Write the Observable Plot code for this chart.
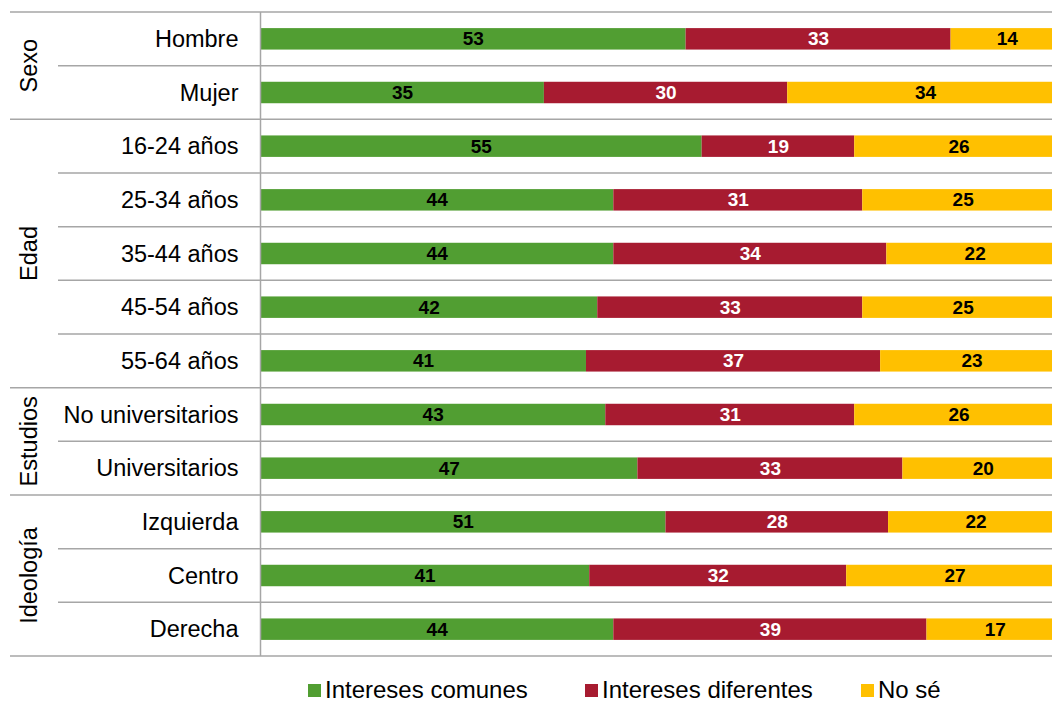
<!DOCTYPE html>
<html>
<head>
<meta charset="utf-8">
<script src="https://cdn.jsdelivr.net/npm/d3@7"></script>
<script src="https://cdn.jsdelivr.net/npm/@observablehq/plot@0.6"></script>
<style>
  html, body { margin: 0; padding: 0; background: #fff; overflow: hidden; }
  body { font-family: "Liberation Sans", Arial, Helvetica, sans-serif; color: #000; width: 1052px; }
  #chart { width: 1052px; height: 668px; overflow: hidden; }
  #chart svg { display: block; max-width: none !important; }
  #legend { position: relative; height: 34px; width: 1052px; font-size: 24px; }
  .item { position: absolute; top: 11px; display: flex; align-items: center; line-height: 22px; height: 22px; }
  .sw { width: 13px; height: 13px; margin-right: 4px; }
</style>
</head>
<body>
<div id="chart"></div>
<div id="legend"></div>
<script>
// ---- data ----
const categories = ["Hombre", "Mujer", "16-24 años", "25-34 años", "35-44 años", "45-54 años", "55-64 años",
  "No universitarios", "Universitarios", "Izquierda", "Centro", "Derecha"];
const groupNames = ["Sexo", "Edad", "Estudios", "Ideología"];
const groupSizes = [2, 5, 2, 3];
const series = ["Intereses comunes", "Intereses diferentes", "No sé"];
const comunes    = [53, 35, 55, 44, 44, 42, 41, 43, 47, 51, 41, 44];
const diferentes = [33, 30, 19, 31, 34, 33, 37, 31, 33, 28, 32, 39];
const noSe       = [14, 34, 26, 25, 22, 25, 23, 26, 20, 22, 27, 17];
const colors = ["#519E32", "#A71B30", "#FFC000"];

const seriesValues = [comunes, diferentes, noSe];
const table = [];
categories.forEach((cat, i) => {
  series.forEach((s, j) => table.push({cat, serie: s, value: seriesValues[j][i]}));
});

const FONT = '"Liberation Sans", Arial, Helvetica, sans-serif';
const W = 1063; // the reference's bar area runs slightly past the cropped right edge

const stackOpts = (extra) => Plot.stackX({offset: "normalize", x: "value", y: "cat", z: "serie", ...extra});

const plot = Plot.plot({
  width: W,
  height: 668,
  marginTop: 12,
  marginBottom: 12,
  marginLeft: 260,
  marginRight: 0,
  style: {fontFamily: FONT, color: "#000", background: "#fff", maxWidth: "none"},
  x: {domain: [0, 1], axis: null},
  y: {domain: categories, paddingInner: 0.6, paddingOuter: 0.3, round: false, label: null, axis: null},
  color: {domain: series, range: colors},
  marks: [
    Plot.barX(table, stackOpts({fill: "serie"})),
    Plot.text(table, Plot.filter(d => d.serie !== series[1],
      stackOpts({text: d => String(d.value), fill: "#000", fontWeight: "bold", fontSize: 19}))),
    Plot.text(table, Plot.filter(d => d.serie === series[1],
      stackOpts({text: d => String(d.value), fill: "#fff", fontWeight: "bold", fontSize: 19}))),
    Plot.ruleX([0], {stroke: "#a6a6a6", strokeWidth: 1.5}),
    Plot.axisY({tickSize: 0, tickPadding: 22, fontSize: 23.5, fill: "#000", label: null})
  ]
});

// separators and group labels positioned with the plot's own y scale
const ys = plot.scale("y");
const bw = ys.bandwidth;
const step = ys.step != null ? ys.step : (ys.range[1] - ys.range[0]) / categories.length;
const rowTop = (cat) => ys.apply(cat) + bw / 2 - step / 2;

const svg = d3.select(plot);
svg.style("max-width", "none");
const gSep = svg.insert("g", ":first-child").attr("stroke", "#a6a6a6").attr("stroke-width", 1.5);
const groupStarts = new Set();
let acc = 0;
groupSizes.forEach(n => { groupStarts.add(acc); acc += n; });
categories.forEach((cat, i) => {
  const y = rowTop(cat);
  gSep.append("line").attr("x1", groupStarts.has(i) ? 10 : 58).attr("x2", W).attr("y1", y).attr("y2", y);
});
const yEnd = rowTop(categories[categories.length - 1]) + step;
gSep.append("line").attr("x1", 10).attr("x2", W).attr("y1", yEnd).attr("y2", yEnd);

const gLab = svg.append("g").attr("font-size", 23.5).attr("font-family", FONT).attr("fill", "#000");
acc = 0;
groupNames.forEach((g, k) => {
  const first = categories[acc], last = categories[acc + groupSizes[k] - 1];
  const yc = (rowTop(first) + rowTop(last) + step) / 2;
  gLab.append("text").attr("transform", `translate(29,${yc}) rotate(-90)`)
    .attr("text-anchor", "middle").attr("dominant-baseline", "central").text(g);
  acc += groupSizes[k];
});

document.getElementById("chart").appendChild(plot);

// legend
const legendLeft = [308, 585, 861];
const legend = d3.select("#legend");
series.forEach((s, i) => {
  const it = legend.append("div").attr("class", "item").style("left", legendLeft[i] + "px");
  it.append("div").attr("class", "sw").style("background", colors[i]);
  it.append("span").text(s);
});
</script>
</body>
</html>
